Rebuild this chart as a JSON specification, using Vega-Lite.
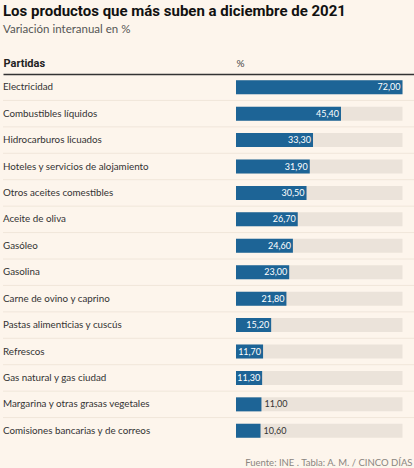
{
  "$schema": "https://vega.github.io/schema/vega-lite/v6.json",
  "autosize": {"type": "none"},
  "padding": {"left": 3, "right": 0, "top": 74, "bottom": 24},
  "width": 411,
  "height": 370,
  "background": "#fdf5ec",
  "config": {
    "view": {"stroke": null},
    "font": "Lato",
    "locale": {"number": {"decimal": ",", "thousands": ".", "grouping": [3], "currency": ["", " €"]}}
  },
  "title": {
    "text": "Los productos que más suben a diciembre de 2021",
    "subtitle": "Variación interanual en %",
    "anchor": "start",
    "frame": "group",
    "font": "Roboto",
    "fontSize": 15,
    "fontWeight": "bold",
    "color": "#111111",
    "subtitleFont": "Lato",
    "subtitleFontSize": 11.5,
    "subtitleColor": "#555555",
    "subtitlePadding": 5,
    "offset": 22
  },
  "data": {
    "values": [
      {"name": "Electricidad", "value": 72.0},
      {"name": "Combustibles líquidos", "value": 45.4},
      {"name": "Hidrocarburos licuados", "value": 33.3},
      {"name": "Hoteles y servicios de alojamiento", "value": 31.9},
      {"name": "Otros aceites comestibles", "value": 30.5},
      {"name": "Aceite de oliva", "value": 26.7},
      {"name": "Gasóleo", "value": 24.6},
      {"name": "Gasolina", "value": 23.0},
      {"name": "Carne de ovino y caprino", "value": 21.8},
      {"name": "Pastas alimenticias y cuscús", "value": 15.2},
      {"name": "Refrescos", "value": 11.7},
      {"name": "Gas natural y gas ciudad", "value": 11.3},
      {"name": "Margarina y otras grasas vegetales", "value": 11.0},
      {"name": "Comisiones bancarias y de correos", "value": 10.6}
    ]
  },
  "encoding": {
    "y": {
      "field": "name",
      "type": "nominal",
      "sort": null,
      "scale": {"paddingInner": 0, "paddingOuter": 0},
      "axis": {
        "orient": "left",
        "labels": false,
        "ticks": false,
        "domain": false,
        "grid": false,
        "title": "Partidas",
        "titleAngle": 0,
        "titleAlign": "left",
        "titleBaseline": "alphabetic",
        "titleX": 0,
        "titleY": -8,
        "titleFont": "Roboto",
        "titleFontSize": 11,
        "titleFontWeight": "bold",
        "titleColor": "#222222"
      }
    }
  },
  "layer": [
    {
      "transform": [{"filter": "datum.name !== 'Comisiones bancarias y de correos'"}],
      "mark": {"type": "rule", "color": "#f0e6da", "strokeWidth": 1},
      "encoding": {
        "y": {"field": "name", "type": "nominal", "sort": null, "bandPosition": 1}
      }
    },
    {
      "mark": {"type": "bar", "color": "#ebe3da", "size": 14},
      "encoding": {
        "x": {
          "datum": 0,
          "type": "quantitative",
          "scale": {"domain": [-100.76, 76.97], "nice": false, "zero": false},
          "axis": {
            "orient": "top",
            "labels": false,
            "ticks": false,
            "grid": false,
            "domain": true,
            "domainColor": "#333333",
            "domainWidth": 1.5,
            "title": "%",
            "titleAlign": "left",
            "titleBaseline": "alphabetic",
            "titleX": 233,
            "titleY": -8,
            "titleFontSize": 10,
            "titleFontWeight": "normal",
            "titleColor": "#444444"
          }
        },
        "x2": {"datum": 72}
      }
    },
    {
      "mark": {"type": "bar", "color": "#1d6496", "size": 14},
      "encoding": {
        "x": {
          "field": "value",
          "type": "quantitative",
          "axis": {
            "orient": "bottom",
            "labels": false,
            "ticks": false,
            "grid": false,
            "domain": false,
            "title": "Fuente: INE . Tabla: A. M. / CINCO DÍAS",
            "titleAlign": "right",
            "titleBaseline": "alphabetic",
            "titleX": 409,
            "titleY": 21,
            "titleFontSize": 9.5,
            "titleFontWeight": "normal",
            "titleColor": "#8a8580"
          }
        },
        "x2": {"datum": 0}
      }
    },
    {
      "transform": [{"filter": "datum.value > 11.1"}],
      "mark": {"type": "text", "align": "right", "baseline": "middle", "dx": -2, "fontSize": 9, "color": "#ffffff"},
      "encoding": {
        "x": {"field": "value", "type": "quantitative", "axis": null},
        "text": {"field": "value", "type": "quantitative", "format": ".2f"}
      }
    },
    {
      "transform": [{"filter": "datum.value <= 11.1"}],
      "mark": {"type": "text", "align": "left", "baseline": "middle", "dx": 3, "fontSize": 9, "color": "#333333"},
      "encoding": {
        "x": {"field": "value", "type": "quantitative", "axis": null},
        "text": {"field": "value", "type": "quantitative", "format": ".2f"}
      }
    },
    {
      "mark": {"type": "text", "align": "left", "baseline": "middle", "fontSize": 9.8, "color": "#333333"},
      "encoding": {
        "x": {"datum": -100.76, "type": "quantitative", "axis": null},
        "text": {"field": "name", "type": "nominal"}
      }
    }
  ],
  "resolve": {"axis": {"x": "independent"}}
}
